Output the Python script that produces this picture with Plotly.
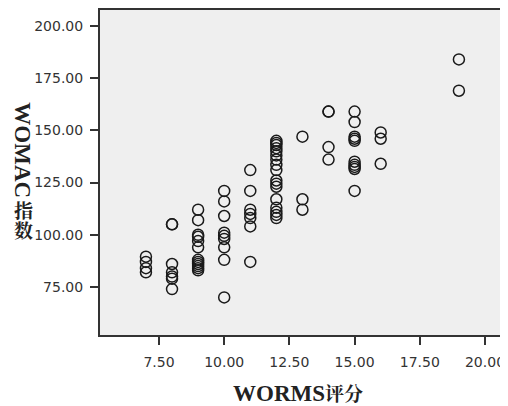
import plotly.graph_objects as go

# WORMS score (x) and WOMAC index (y)
worms = ([7] * 4 + [8] * 7 + [9] * 12 + [10] * 9 + [11] * 7 + [12] * 17
         + [13] * 3 + [14] * 4 + [15] * 10 + [16] * 3 + [19] * 2)
womac = [
    89.5, 87, 84, 82,
    105, 105, 86, 82, 80, 79, 74,
    112, 107, 100, 99, 97, 94, 88, 87, 86, 85, 84, 83,
    121, 116, 109, 101, 99.5, 98, 94, 88, 70,
    131, 121, 112, 110, 108, 104, 87,
    145, 144, 143, 141.5, 140, 138, 136, 133.5, 131, 126, 124.5, 123, 117, 113, 111, 109.5, 108,
    147, 117, 112,
    159, 159, 142, 136,
    159, 154, 147, 146, 145, 135, 133.5, 132.5, 131.5, 121,
    149, 146, 134,
    184, 169,
]
x_ticks = [7.5, 10, 12.5, 15, 17.5, 20]
y_ticks = [75, 100, 125, 150, 175, 200]
x_title_latin, x_title_cjk = "WORMS", "评分"
y_title_latin, y_title_cjk = "WOMAC", ["指", "数"]

fig = go.Figure(go.Scatter(
    x=worms, y=womac, mode="markers",
    marker=dict(symbol="circle-open", size=11, color="#1a1a1a",
                line=dict(width=1.5, color="#1a1a1a")),
))

tick_font = dict(family="DejaVu Sans, Liberation Sans, sans-serif", size=14, color="#333333")
serif = "Liberation Serif, Noto Serif CJK SC, Noto Sans CJK SC, serif"

# the page body adds an 8px offset, so the figure is 8px smaller and margins shifted
fig.update_layout(
    width=500, height=398,
    margin=dict(l=92, r=3, t=2, b=71),
    paper_bgcolor="white", plot_bgcolor="#EFEFEF",
    showlegend=False,
)
fig.update_xaxes(
    range=[5.238, 20.767], tickvals=x_ticks,
    ticktext=[f"{v:.2f}" for v in x_ticks],
    ticks="outside", ticklen=8, tickwidth=2, tickcolor="#333333",
    ticklabelstandoff=5,
    showgrid=False, zeroline=False, automargin=False,
    showline=True, linewidth=2, linecolor="#333333", mirror=True,
    tickfont=tick_font,
)
fig.update_yaxes(
    range=[52.0, 207.66], tickvals=y_ticks,
    ticktext=[f"{v:.2f}" for v in y_ticks],
    ticks="outside", ticklen=8, tickwidth=2, tickcolor="#333333",
    ticklabelstandoff=4,
    showgrid=False, zeroline=False, automargin=False,
    showline=True, linewidth=2, linecolor="#333333", mirror=True,
    tickfont=tick_font,
)

# x axis title (Latin + CJK)
fig.add_annotation(
    xref="paper", yref="paper", x=0.49, y=-0.18, yanchor="middle",
    text=f"<b>{x_title_latin}</b><b><span style='font-size:19px'>{x_title_cjk}</span></b>",
    showarrow=False, font=dict(family=serif, size=23, color="#222222"),
)
# y axis title: Latin rotated clockwise, CJK characters upright (vertical writing)
fig.add_annotation(
    xref="paper", yref="paper", x=-0.19, y=0.568, xanchor="center", yanchor="middle",
    text=f"<b>{y_title_latin}</b>", textangle=90,
    showarrow=False, font=dict(family=serif, size=23, color="#222222"),
)
for ch, yp in zip(y_title_cjk, [0.38, 0.318]):
    fig.add_annotation(
        xref="paper", yref="paper", x=-0.19, y=yp, xanchor="center", yanchor="middle",
        text=f"<b>{ch}</b>", showarrow=False,
        font=dict(family=serif, size=19, color="#222222"),
    )

fig.write_html("out.html")
